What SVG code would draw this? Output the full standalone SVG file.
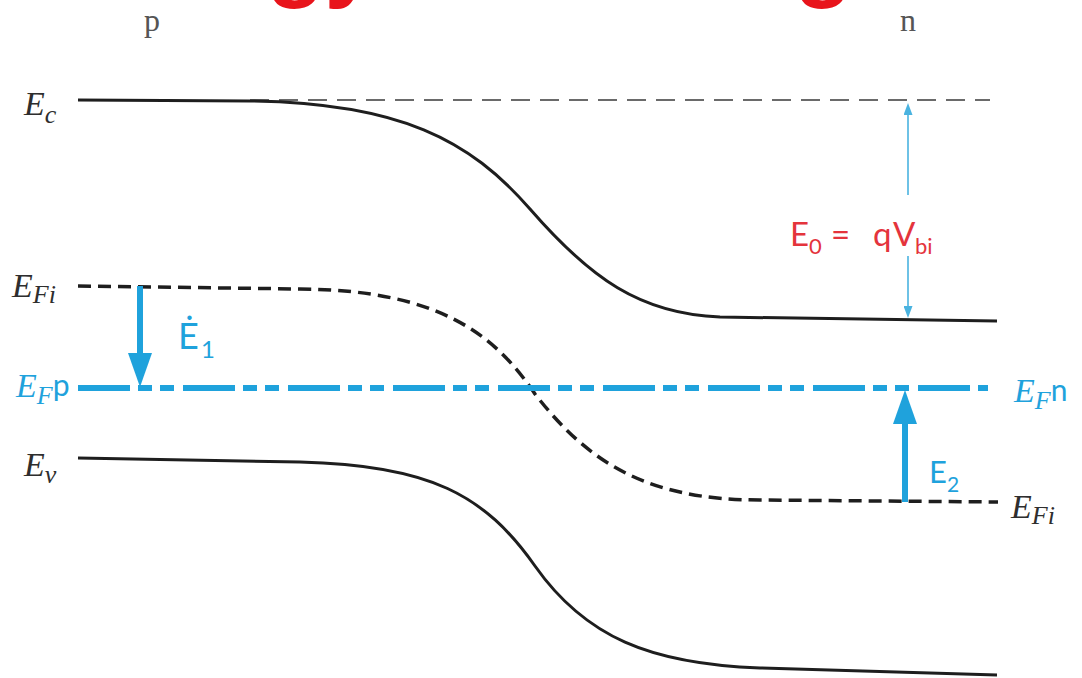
<svg xmlns="http://www.w3.org/2000/svg" width="1082" height="678" viewBox="0 0 1082 678">
<style>
.band{fill:none;stroke:#1e1e1e;stroke-width:3}
.fi{fill:none;stroke:#1e1e1e;stroke-width:3.5;stroke-dasharray:13 7}
.ref{fill:none;stroke:#6a6a6a;stroke-width:2;stroke-dasharray:19 10}
.ef{fill:none;stroke:#1fa2dc;stroke-width:6;stroke-dasharray:52 8 14 8 14 9}
.lbl{font-family:"Liberation Serif",serif;font-style:italic;font-size:34px;fill:#2e2e2e}
.sub{font-size:26px}
.blue{fill:#1fa2dc}
.sans{font-family:Lato,"Liberation Sans",sans-serif;font-style:normal}
.side{font-family:"Liberation Serif",serif;font-size:32px;fill:#555}
.thick{stroke:#1fa2dc;stroke-width:6;fill:none}
.thin{stroke:#4ab3e0;stroke-width:1.6;fill:none}
.red{font-family:Lato,"Liberation Sans",sans-serif;fill:#e4343c}
.bl{font-family:Lato,"Liberation Sans",sans-serif;fill:#1fa2dc}
</style>
<defs>
<marker id="bigHead" markerUnits="userSpaceOnUse" markerWidth="34" markerHeight="24" viewBox="0 0 34 24" refX="0" refY="12" orient="auto">
<path d="M0,0 L34,12 L0,24 z" fill="#1fa2dc"/>
</marker>
<marker id="thinHead" markerUnits="userSpaceOnUse" markerWidth="12" markerHeight="9" viewBox="0 0 12 9" refX="0" refY="4.5" orient="auto">
<path d="M0,0 L12,4.5 L0,9 z" fill="#4ab3e0"/>
</marker>
</defs>

<text x="541" y="-11" text-anchor="middle" font-family="Liberation Sans, sans-serif" font-weight="bold" font-size="95" fill="#e8141b">Energy band diagram</text>

<g id="side-p"><text class="side" x="144" y="31">p</text></g>
<g id="side-n"><text class="side" x="900" y="31">n</text></g>

<g id="vacuum-ref"><path class="ref" d="M250,100 L990,100"/></g>

<g id="Ec">
<path class="band" d="M78,100 L250,101 C400,103 470,140 530,209 C590,278 640,314 720,317 L997,321"/>
<text class="lbl" x="24" y="115">E<tspan class="sub" dy="8">c</tspan></text>
</g>

<g id="EFi">
<path class="fi" d="M78,286 L300,289 C440,290 495,335 535,394 C590,465 650,500 760,500 L998,502"/>
<text class="lbl" x="12" y="297">E<tspan class="sub" dy="6">Fi</tspan></text>
<text class="lbl" x="1011" y="518">E<tspan class="sub" dy="6">Fi</tspan></text>
</g>

<g id="EF">
<path class="ef" d="M78,388 L988,388"/>
<text class="lbl blue" x="16" y="397">E<tspan class="sub" dy="7">F</tspan><tspan class="sans" dy="-8" font-size="30">p</tspan></text>
<text class="lbl blue" x="1014" y="402">E<tspan class="sub" dy="7">F</tspan><tspan class="sans" dy="-8" font-size="30">n</tspan></text>
</g>

<g id="Ev">
<path class="band" d="M78,458 L300,462 C430,465 485,495 535,566 C585,637 650,664 760,668 L997,675"/>
<text class="lbl" x="24" y="476">E<tspan class="sub" dy="7">v</tspan></text>
</g>

<g id="connectors">
<path class="thick" d="M140,286 L140,353" marker-end="url(#bigHead)"/>
<path class="thick" d="M905,502 L905,424" marker-end="url(#bigHead)"/>
<path class="thin" d="M908,195 L908,115" marker-end="url(#thinHead)"/>
<path class="thin" d="M908,256 L908,306" marker-end="url(#thinHead)"/>
</g>

<g id="label-E1">
<text class="bl" x="178" y="349" font-size="36">Ė<tspan font-size="24" x="201" y="358">1</tspan></text>
</g>
<g id="label-E2">
<text class="bl" x="929" y="483" font-size="31">E<tspan font-size="21" x="947" y="492">2</tspan></text>
</g>
<g id="label-E0">
<text class="red" x="790" y="246" font-size="33">E<tspan font-size="22" x="809" y="254">0</tspan><tspan x="831" y="246">=</tspan><tspan x="873" y="246">q</tspan><tspan x="893" y="246">V</tspan><tspan font-size="22" x="915" y="254">bi</tspan></text>
</g>
</svg>
